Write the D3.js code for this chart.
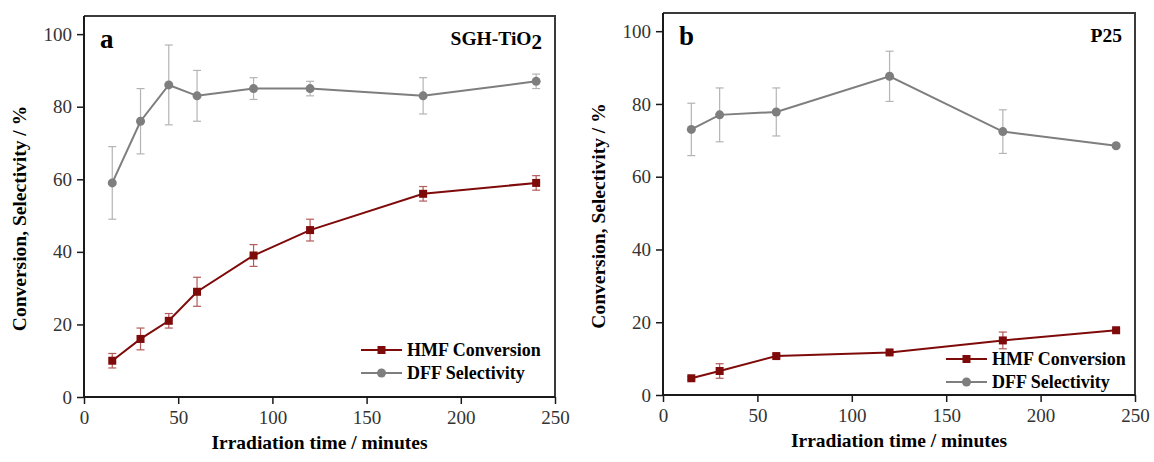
<!DOCTYPE html>
<html>
<head>
<meta charset="utf-8">
<script src="https://cdn.jsdelivr.net/npm/d3@7"></script>
<style>
  body { margin: 0; background: #fff; }
  svg text { font-family: "Liberation Serif", "Times New Roman", serif; }
</style>
</head>
<body>
<div id="chart"></div>
<script>
// data
var timesA = [15, 30, 45, 60, 90, 120, 180, 240];
var hmfA = [10, 16, 21, 29, 39, 46, 56, 59];
var hmfErrA = [2, 3, 2, 4, 3, 3, 2, 2];
var dffA = [59, 76, 86, 83, 85, 85, 83, 87];
var dffErrA = [10, 9, 11, 7, 3, 2, 5, 2];

var timesB = [15, 30, 60, 120, 180, 240];
var hmfB = [4.6, 6.6, 10.7, 11.7, 15, 17.8];
var hmfErrB = [0.4, 2, 0.5, 0.4, 2.3, 0.4];
var dffB = [73, 77, 77.8, 87.6, 72.4, 68.5];
var dffErrB = [7.2, 7.4, 6.6, 6.9, 6, 0.4];

var xTicks = [0, 50, 100, 150, 200, 250];
var yTicks = [0, 20, 40, 60, 80, 100];
var legendLabels = ["HMF Conversion", "DFF Selectivity"];

var width = 1154, height = 462;
var red = "#7f0a0a", redErr = "#b45a5a", grey = "#7e7e7e", greyErr = "#b4b4b4";

var svg = d3.select("#chart").append("svg")
  .attr("width", width)
  .attr("height", height);

function drawPanel(p) {
  var x = d3.scaleLinear().domain([0, 250]).range([p.left, p.right]);
  var y = d3.scaleLinear().domain([0, 105]).range([p.bottom, p.top]);
  var g = svg.append("g");

  // frame top/right
  g.append("path")
    .attr("d", `M${p.left},${p.top}H${p.right}V${p.bottom}`)
    .attr("fill", "none")
    .attr("stroke", "#3a3a3a")
    .attr("stroke-width", 2);

  var xAxis = g.append("g")
    .attr("transform", `translate(0,${p.bottom})`)
    .call(d3.axisBottom(x).tickValues(xTicks).tickSize(7).tickPadding(7).tickSizeOuter(0));
  var yAxis = g.append("g")
    .attr("transform", `translate(${p.left},0)`)
    .call(d3.axisLeft(y).tickValues(yTicks).tickSize(7).tickPadding(5).tickSizeOuter(0));

  [xAxis, yAxis].forEach(function(ax) {
    ax.select(".domain").attr("stroke", "#1a1a1a").attr("stroke-width", 2);
    ax.selectAll(".tick line").attr("stroke", "#1a1a1a").attr("stroke-width", 1.5);
    ax.selectAll(".tick text")
      .attr("fill", "#333")
      .style("font-size", "19px")
      .style("font-family", "'Liberation Serif', serif");
  });
  // axis lines span the whole frame
  xAxis.select(".domain").attr("d", `M${p.left},0H${p.right}`);
  yAxis.select(".domain").attr("d", `M0,${p.bottom}V${p.top}`);

  var line = d3.line().x(d => x(d[0])).y(d => y(d[1]));

  function series(times, vals, errs, col, errCol, shape) {
    var pts = times.map((t, i) => [t, vals[i], errs[i]]);
    // error bars
    var eb = g.append("g").attr("stroke", errCol).attr("stroke-width", 1.2);
    pts.forEach(function(d) {
      var cx = x(d[0]), y1 = y(d[1] + d[2]), y2 = y(d[1] - d[2]);
      eb.append("line").attr("x1", cx).attr("x2", cx).attr("y1", y1).attr("y2", y2);
      eb.append("line").attr("x1", cx - 4).attr("x2", cx + 4).attr("y1", y1).attr("y2", y1);
      eb.append("line").attr("x1", cx - 4).attr("x2", cx + 4).attr("y1", y2).attr("y2", y2);
    });
    g.append("path")
      .datum(pts)
      .attr("d", line)
      .attr("fill", "none")
      .attr("stroke", col)
      .attr("stroke-width", 2);
    if (shape == "square") {
      g.selectAll(null).data(pts).enter().append("rect")
        .attr("x", d => x(d[0]) - 4)
        .attr("y", d => y(d[1]) - 4)
        .attr("width", 8).attr("height", 8)
        .attr("fill", col);
    } else {
      g.selectAll(null).data(pts).enter().append("circle")
        .attr("cx", d => x(d[0]))
        .attr("cy", d => y(d[1]))
        .attr("r", 4.5)
        .attr("fill", col);
    }
  }

  series(p.times, p.dff, p.dffErr, grey, greyErr, "circle");
  series(p.times, p.hmf, p.hmfErr, red, redErr, "square");

  // panel letter and sample name
  g.append("text")
    .attr("x", p.left + 16).attr("y", p.top + 32)
    .style("font-size", "27px").style("font-weight", "bold")
    .text(p.letter);
  var nm = g.append("text")
    .attr("x", p.right - 13).attr("y", p.top + 29)
    .attr("text-anchor", "end")
    .style("font-size", "19.5px").style("font-weight", "bold");
  nm.append("tspan").text(p.name);
  if (p.sub) nm.append("tspan").attr("dy", 4).style("font-size", "21px").text(p.sub);

  // legend
  var lg = g.append("g");
  legendLabels.forEach(function(lab, i) {
    var col = i == 0 ? red : grey;
    var ly = p.legY + i * 23;
    lg.append("line")
      .attr("x1", p.legX).attr("x2", p.legX + 41)
      .attr("y1", ly).attr("y2", ly)
      .attr("stroke", col).attr("stroke-width", 2);
    if (i == 0) {
      lg.append("rect").attr("x", p.legX + 16.5).attr("y", ly - 4).attr("width", 8).attr("height", 8).attr("fill", col);
    } else {
      lg.append("circle").attr("cx", p.legX + 20.5).attr("cy", ly).attr("r", 4.5).attr("fill", col);
    }
    lg.append("text")
      .attr("x", p.legX + 46).attr("y", ly + 6)
      .style("font-size", "18px").style("font-weight", "bold")
      .text(lab);
  });

  // axis titles
  g.append("text")
    .attr("transform", `translate(${p.left - 58},${(p.top + p.bottom) / 2 + 12}) rotate(-90)`)
    .attr("text-anchor", "middle")
    .style("font-size", "19.5px").style("font-weight", "bold")
    .text("Conversion, Selectivity / %");
  g.append("text")
    .attr("x", (p.left + p.right) / 2).attr("y", p.bottom + 52)
    .attr("text-anchor", "middle")
    .style("font-size", "19.5px").style("font-weight", "bold")
    .text("Irradiation time / minutes");
}

drawPanel({
  left: 84, right: 555, top: 16, bottom: 397,
  times: timesA, hmf: hmfA, hmfErr: hmfErrA, dff: dffA, dffErr: dffErrA,
  letter: "a", name: "SGH-TiO", sub: "2",
  legX: 361, legY: 350
});

drawPanel({
  left: 663, right: 1135, top: 13, bottom: 395,
  times: timesB, hmf: hmfB, hmfErr: hmfErrB, dff: dffB, dffErr: dffErrB,
  letter: "b", name: "P25", sub: null,
  legX: 946, legY: 359
});
</script>
</body>
</html>
